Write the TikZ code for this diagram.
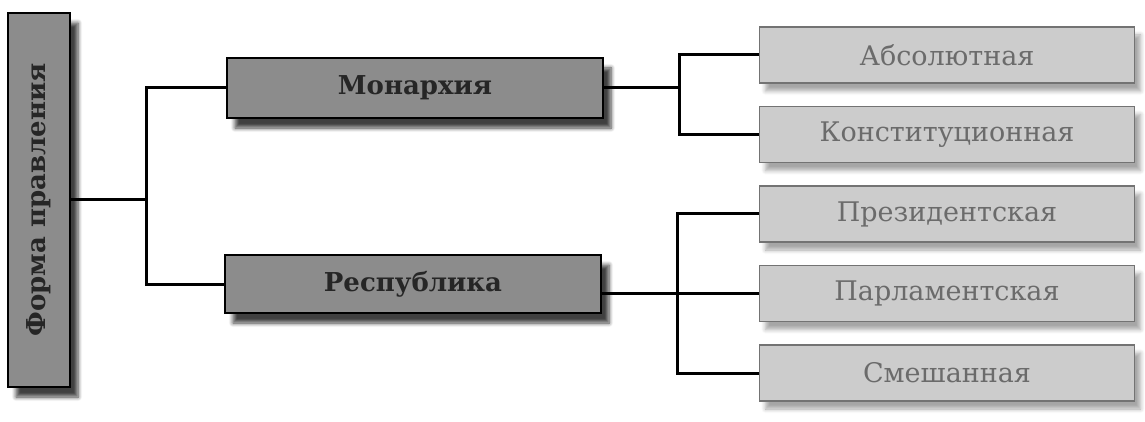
\documentclass[tikz,border=0pt]{standalone}
\usepackage{fontspec}
\setmainfont{DejaVu Serif}
\usetikzlibrary{shadows.blur}
\definecolor{darkbox}{gray}{0.55}
\definecolor{lightbox}{gray}{0.80}
\definecolor{lighttext}{gray}{0.42}

\begin{document}
\begin{tikzpicture}[x=0.5pt, y=-0.5pt,
            mainbox/.style={draw=black, line width=1pt, fill=darkbox, inner sep=0pt,
                    text=black!85, font=\bfseries\fontsize{13}{15}\selectfont,
                    blur shadow={shadow xshift=4pt, shadow yshift=-5pt, shadow opacity=75, shadow blur steps=6}},
            typebox/.style={draw=black!55, line width=0.7pt, fill=lightbox, inner sep=0pt,
                    minimum width=187.5pt, minimum height=28pt,
                    text=lighttext, font=\fontsize{13.5}{16}\selectfont,
                    blur shadow={shadow xshift=3pt, shadow yshift=-4pt, shadow opacity=35, shadow blur steps=6}},
            link/.style={line width=1.5pt}
        ]
        \useasboundingbox (0,0) rectangle (1145,422);

        % Root box and the two main forms
        \node[mainbox, minimum width=31pt, minimum height=187pt] (form) at (39,200) {\rotatebox{90}{Форма правления}};
        \node[mainbox, minimum width=188pt, minimum height=30pt] (mon) at (415,88) {Монархия};
        \node[mainbox, minimum width=188pt, minimum height=29pt] (rep) at (413,284) {Республика};

        % Subtypes stacked on the right
        \foreach \name/\label [count=\n from 0] in {abs/Абсолютная, con/Конституционная, pre/Президентская, par/Парламентская, mix/Смешанная} {
                \node[typebox] (\name) at (947,{55+79.5*\n}) {\label};
            }

        % Branch points
        \coordinate (split) at (146,200);
        \coordinate (msplit) at (679,88);
        \coordinate (rsplit) at (677,293.5);

        \draw[link] (form.east) -- (split);
        \draw[link] (mon.west) -| (split) |- (rep.west);

        \draw[link] (mon.east) -- (msplit);
        \draw[link] (abs.west) -| (msplit) |- (con.west);

        \draw[link] (rep.east |- par.west) -- (par.west);
        \draw[link] (pre.west) -| (rsplit) |- (mix.west);
    \end{tikzpicture}
\end{document}
